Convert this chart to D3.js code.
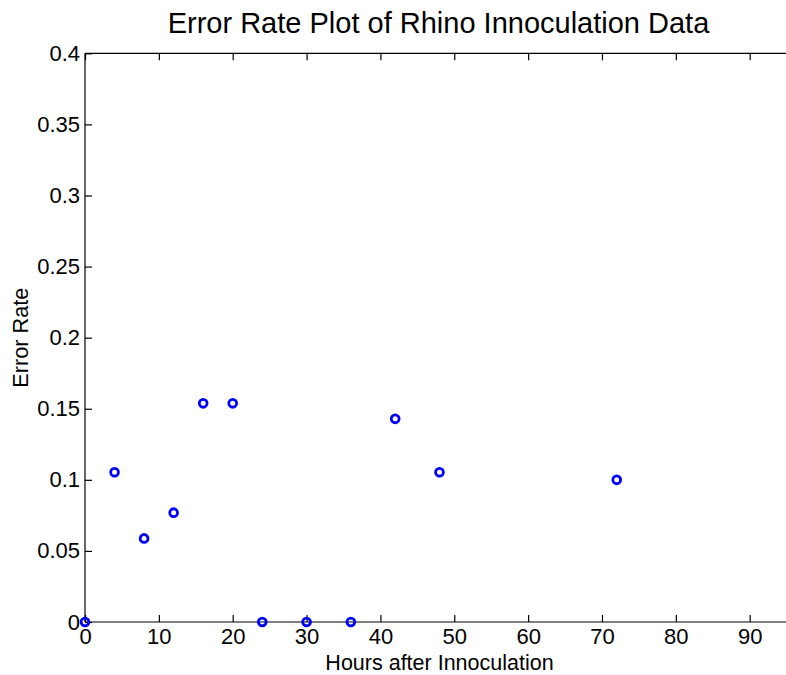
<!DOCTYPE html>
<html>
<head>
<meta charset="utf-8">
<script src="https://cdn.jsdelivr.net/npm/d3@7"></script>
<style>
  html, body { margin: 0; padding: 0; background: #fff; }
  svg { display: block; }
  text { font-family: "Liberation Sans", Arial, Helvetica, sans-serif; fill: #000; }
</style>
</head>
<body>
<script>
const hours = [0, 4, 8, 12, 16, 20, 24, 30, 36, 42, 48, 72];
const errorRate = [0, 0.1053, 0.0588, 0.0769, 0.1538, 0.1538, 0, 0, 0, 0.1429, 0.1053, 0.1];
const xTicks = [0, 10, 20, 30, 40, 50, 60, 70, 80, 90];
const yTicks = [0, 0.05, 0.1, 0.15, 0.2, 0.25, 0.3, 0.35, 0.4];
const yTickLabels = ["0", "0.05", "0.1", "0.15", "0.2", "0.25", "0.3", "0.35", "0.4"];
const titleText = "Error Rate Plot of Rhino Innoculation Data";
const xLabel = "Hours after Innoculation";
const yLabel = "Error Rate";

const W = 786, H = 675;
const mLeft = 85, mRight = 794, mTop = 53.3, mBottom = 622;
const tickFont = 22;

const svg = d3.select("body").append("svg").attr("width", W).attr("height", H);

const x = d3.scaleLinear().domain([0, 96]).range([mLeft, mRight]);
const y = d3.scaleLinear().domain([0, 0.4]).range([mBottom, mTop]);

const axisG = svg.append("g");
axisG.append("line").attr("x1", mLeft).attr("x2", mLeft).attr("y1", mTop).attr("y2", mBottom)
  .attr("stroke", "#000").attr("stroke-width", 1.2);
axisG.append("line").attr("x1", mLeft).attr("x2", mRight).attr("y1", mBottom).attr("y2", mBottom)
  .attr("stroke", "#000").attr("stroke-width", 1.2);
axisG.append("line").attr("x1", mLeft).attr("x2", mRight).attr("y1", mTop).attr("y2", mTop)
  .attr("stroke", "#000").attr("stroke-width", 1.2);

const xAxis = d3.axisBottom(x).tickValues(xTicks).tickSizeInner(-7).tickSizeOuter(0).tickPadding(6.5)
  .tickFormat(d3.format("d"));
const gx = svg.append("g").attr("transform", `translate(0,${mBottom})`).call(xAxis);
gx.select(".domain").remove();
gx.selectAll(".tick line").attr("stroke", "#000").attr("stroke-width", 1.2);
gx.selectAll(".tick text").attr("font-size", tickFont).attr("font-family", "Liberation Sans, Arial, sans-serif").attr("fill", "#000");

const xTop = d3.axisTop(x).tickValues(xTicks).tickSizeInner(-7).tickSizeOuter(0).tickFormat("");
const gxt = svg.append("g").attr("transform", `translate(0,${mTop})`).call(xTop);
gxt.select(".domain").remove();
gxt.selectAll(".tick line").attr("stroke", "#000").attr("stroke-width", 1.2);

const yAxis = d3.axisLeft(y).tickValues(yTicks).tickSizeInner(-7).tickSizeOuter(0).tickPadding(5)
  .tickFormat((d, i) => yTickLabels[i]);
const gy = svg.append("g").attr("transform", `translate(${mLeft},0)`).call(yAxis);
gy.select(".domain").remove();
gy.selectAll(".tick line").attr("stroke", "#000").attr("stroke-width", 1.2);
gy.selectAll(".tick text").attr("font-size", tickFont).attr("font-family", "Liberation Sans, Arial, sans-serif").attr("fill", "#000");

svg.append("g").selectAll("circle")
  .data(hours.map((h, i) => ({h, e: errorRate[i]})))
  .join("circle")
  .attr("cx", d => x(d.h))
  .attr("cy", d => y(d.e))
  .attr("r", 3.9)
  .attr("fill", "none")
  .attr("stroke", "#0000ff")
  .attr("stroke-width", 2.8);

svg.append("text").attr("x", 438.5).attr("y", 33)
  .attr("text-anchor", "middle").attr("font-size", 29).text(titleText);

svg.append("text").attr("x", 439.5).attr("y", 669.5)
  .attr("text-anchor", "middle").attr("font-size", 21.5).text(xLabel);

svg.append("text").attr("transform", `translate(28,${(mTop + mBottom) / 2}) rotate(-90)`)
  .attr("text-anchor", "middle").attr("font-size", 21.7).text(yLabel);
</script>
</body>
</html>
